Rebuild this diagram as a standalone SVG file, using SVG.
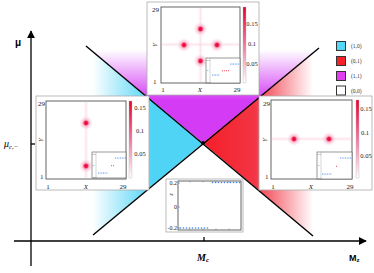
<svg xmlns="http://www.w3.org/2000/svg" width="374" height="273" viewBox="0 0 374 273">
<defs>
<linearGradient id="gPurple" gradientUnits="userSpaceOnUse" x1="0" y1="50" x2="0" y2="100">
<stop offset="0" stop-color="#ffffff"/><stop offset="1" stop-color="#d33cf4"/>
</linearGradient>
<linearGradient id="gCyan" gradientUnits="userSpaceOnUse" x1="92" y1="0" x2="152" y2="0">
<stop offset="0" stop-color="#ffffff"/><stop offset="1" stop-color="#4fd4f6"/>
</linearGradient>
<linearGradient id="gRed" gradientUnits="userSpaceOnUse" x1="203" y1="0" x2="313" y2="0">
<stop offset="0" stop-color="#f51e28"/><stop offset="0.47" stop-color="#f23545"/><stop offset="1" stop-color="#ffffff"/>
</linearGradient>
<linearGradient id="gBar" x1="0" y1="0" x2="0" y2="1">
<stop offset="0" stop-color="#e8002a"/><stop offset="0.45" stop-color="#f06a98"/><stop offset="1" stop-color="#ffffff"/>
</linearGradient>
<radialGradient id="gSpot">
<stop offset="0" stop-color="#e8002a"/><stop offset="0.25" stop-color="#ee2050"/><stop offset="0.45" stop-color="#f7a0c0" stop-opacity="0.7"/><stop offset="1" stop-color="#fbd0e0" stop-opacity="0"/>
</radialGradient>
<linearGradient id="gStreakV" x1="0" y1="0" x2="1" y2="0">
<stop offset="0" stop-color="#fbd6e4" stop-opacity="0"/><stop offset="0.5" stop-color="#f9c2d6" stop-opacity="0.8"/><stop offset="1" stop-color="#fbd6e4" stop-opacity="0"/>
</linearGradient>
<linearGradient id="gStreakH" x1="0" y1="0" x2="0" y2="1">
<stop offset="0" stop-color="#fbd6e4" stop-opacity="0"/><stop offset="0.5" stop-color="#f9c2d6" stop-opacity="0.8"/><stop offset="1" stop-color="#fbd6e4" stop-opacity="0"/>
</linearGradient>
<marker id="arrow" viewBox="0 0 10 10" refX="9" refY="5" markerWidth="8" markerHeight="8" markerUnits="userSpaceOnUse" orient="auto">
<path d="M0,0 L10,5 L0,10 Z" fill="#000"/>
</marker>
<style>
.frame{fill:#fff;stroke:#aaaaaa;stroke-width:0.8}
.plot{fill:#fff;stroke:#555;stroke-width:0.9}
.bar{fill:url(#gBar);stroke:#bbb;stroke-width:0.4}
.lbl{font-family:"Liberation Serif",serif;font-size:7px;fill:#222}
.cb{font-family:"Liberation Serif",serif;font-size:6.5px;fill:#222;text-anchor:middle}
.it{font-style:italic}
.inset{fill:#fff;stroke:#555;stroke-width:0.6}
.tiny{font-family:"Liberation Serif",serif;font-size:2.6px;fill:#555}
.bd{fill:#3b82e6}
.rd{fill:#e8202a}
.leg{font-family:"Liberation Serif",serif;font-size:5.5px;fill:#333}
.sq{stroke:#333;stroke-width:1}
.ax{stroke:#000;stroke-width:1.3;fill:none}
.bnd{stroke:#000;stroke-width:1.4;fill:none}
.ticklbl{font-family:"Liberation Serif",serif;font-size:6px;fill:#222;text-anchor:end}
</style>
</defs>

<g id="regions">
<polygon points="86,46 319,48 203,143" fill="url(#gPurple)"/>
<polygon points="86,46 203,143 93,235" fill="url(#gCyan)"/>
<polygon points="319,48 203,143 313,236" fill="url(#gRed)"/>
</g>

<g id="connectors">
<line class="bnd" x1="86" y1="46" x2="313" y2="236"/>
<line class="bnd" x1="319" y1="48" x2="93" y2="235"/>
<line class="ax" x1="31" y1="266" x2="31" y2="31" marker-end="url(#arrow)"/>
<line class="ax" x1="14" y1="241" x2="366" y2="241" marker-end="url(#arrow)"/>
<line class="ax" x1="31" y1="144" x2="35" y2="144" stroke-width="0.9"/>
<line class="ax" x1="204" y1="237" x2="204" y2="241" stroke-width="0.9"/>
</g>

<g id="axis-labels">
<text x="15" y="46" font-family="Liberation Sans,sans-serif" font-size="10" font-weight="bold">μ</text>
<text x="349" y="261" font-family="Liberation Sans,sans-serif" font-size="9" font-weight="bold">M<tspan font-size="6" dy="1">z</tspan></text>
<text x="197" y="261" font-family="Liberation Serif,serif" font-size="10" font-style="italic" font-weight="bold">M<tspan font-size="7" dy="1">c</tspan></text>
<text x="4" y="147" font-family="Liberation Serif,serif" font-size="10" font-style="italic">μ<tspan font-size="6.5" dy="1.5">c,−</tspan></text>
</g>

<g id="center-point"><circle cx="203" cy="143" r="2" fill="#000"/></g>

<g id="panel-top">
<rect class="frame" x="147" y="2" width="112" height="93"/>
<rect class="plot" x="161" y="7" width="79" height="76"/>
<rect x="198" y="8" width="5" height="74" fill="url(#gStreakV)" opacity="0.5"/>
<rect x="162" y="42" width="77" height="5" fill="url(#gStreakH)" opacity="0.5"/>
<circle cx="200.5" cy="29" r="7" fill="url(#gSpot)"/>
<circle cx="184" cy="45" r="7" fill="url(#gSpot)"/>
<circle cx="217" cy="45" r="7" fill="url(#gSpot)"/>
<circle cx="200.5" cy="61" r="7" fill="url(#gSpot)"/>
<rect class="bar" x="243" y="7" width="3" height="76"/>
<text class="cb" x="252" y="26">0.15</text>
<text class="cb" x="252" y="46">0.1</text>
<text class="cb" x="252" y="66">0.05</text>
<text class="lbl" x="152" y="12">29</text>
<text class="lbl" x="153" y="84">1</text>
<text class="lbl it" transform="translate(157,45) rotate(-90)" text-anchor="middle">Y</text>
<text class="lbl" x="163" y="92" text-anchor="middle">1</text>
<text class="lbl it" x="200" y="92" text-anchor="middle">X</text>
<text class="lbl" x="237" y="92" text-anchor="middle">29</text>
<g id="inset-top">
<rect class="inset" x="206" y="58" width="34" height="25"/>
<line x1="210" y1="58" x2="210" y2="83" stroke="#999" stroke-width="0.4"/>
<text class="tiny" x="206.5" y="61">0.2</text><text class="tiny" x="207" y="71">0</text><text class="tiny" x="206.5" y="82.5">-0.2</text>
<g class="bd"><rect x="230" y="63.6" width="0.9" height="0.9"/><rect x="231.6" y="63.6" width="0.9" height="0.9"/><rect x="233.2" y="63.6" width="0.9" height="0.9"/><rect x="234.8" y="63.6" width="0.9" height="0.9"/><rect x="236.4" y="63.6" width="0.9" height="0.9"/><rect x="238" y="63.6" width="0.9" height="0.9"/>
<rect x="212" y="74.6" width="0.9" height="0.9"/><rect x="213.6" y="74.6" width="0.9" height="0.9"/><rect x="215.2" y="74.6" width="0.9" height="0.9"/><rect x="216.8" y="74.6" width="0.9" height="0.9"/><rect x="218.4" y="74.6" width="0.9" height="0.9"/></g>
<g class="rd"><rect x="222" y="70.3" width="0.9" height="0.9"/><rect x="224" y="70.3" width="0.9" height="0.9"/><rect x="226" y="70.3" width="0.9" height="0.9"/><rect x="228" y="70.3" width="0.9" height="0.9"/></g>
</g>
</g>

<g id="panel-left">
<rect class="frame" x="36" y="96" width="113" height="94"/>
<rect class="plot" x="46" y="101" width="80" height="78"/>
<rect x="83.5" y="102" width="5" height="76" fill="url(#gStreakV)" opacity="0.55"/>
<circle cx="86" cy="123" r="7" fill="url(#gSpot)"/>
<circle cx="86" cy="166" r="7" fill="url(#gSpot)"/>
<rect class="bar" x="129" y="101" width="3" height="77"/>
<text class="cb" x="140" y="110">0.15</text>
<text class="cb" x="140" y="133">0.1</text>
<text class="cb" x="140" y="156">0.05</text>
<text class="lbl" x="38" y="106">29</text>
<text class="lbl" x="40" y="179">1</text>
<text class="lbl it" transform="translate(43,140) rotate(-90)" text-anchor="middle">Y</text>
<text class="lbl" x="48" y="189" text-anchor="middle">1</text>
<text class="lbl it" x="86" y="189" text-anchor="middle">X</text>
<text class="lbl" x="123" y="189" text-anchor="middle">29</text>
<g id="inset-left">
<rect class="inset" x="92" y="152" width="34" height="26"/>
<line x1="96" y1="152" x2="96" y2="178" stroke="#999" stroke-width="0.4"/>
<text class="tiny" x="92.5" y="155">0.2</text><text class="tiny" x="93" y="166">0</text><text class="tiny" x="92.5" y="177.5">-0.2</text>
<g class="bd"><rect x="115" y="157.6" width="0.9" height="0.9"/><rect x="116.7" y="157.6" width="0.9" height="0.9"/><rect x="118.4" y="157.6" width="0.9" height="0.9"/><rect x="120.1" y="157.6" width="0.9" height="0.9"/><rect x="121.8" y="157.6" width="0.9" height="0.9"/><rect x="123.5" y="157.6" width="0.9" height="0.9"/><rect x="125" y="157.6" width="0.9" height="0.9"/>
<rect x="98" y="172.6" width="0.9" height="0.9"/><rect x="99.7" y="172.6" width="0.9" height="0.9"/><rect x="101.4" y="172.6" width="0.9" height="0.9"/><rect x="103.1" y="172.6" width="0.9" height="0.9"/><rect x="104.8" y="172.6" width="0.9" height="0.9"/><rect x="106.5" y="172.6" width="0.9" height="0.9"/></g>
<g class="rd"><rect x="111" y="165.3" width="0.9" height="0.9"/><rect x="113" y="165.3" width="0.9" height="0.9"/></g>
</g>
</g>

<g id="panel-right">
<rect class="frame" x="259" y="96" width="113" height="94"/>
<rect class="plot" x="271" y="100" width="81" height="79"/>
<rect x="272" y="136.5" width="79" height="5" fill="url(#gStreakH)" opacity="0.55"/>
<circle cx="294" cy="139" r="7" fill="url(#gSpot)"/>
<circle cx="329" cy="139" r="7" fill="url(#gSpot)"/>
<rect class="bar" x="356" y="100" width="3" height="78"/>
<text class="cb" x="366" y="111">0.15</text>
<text class="cb" x="365" y="135">0.1</text>
<text class="cb" x="366" y="158">0.05</text>
<text class="lbl" x="263" y="106">29</text>
<text class="lbl" x="265" y="179">1</text>
<text class="lbl it" transform="translate(267,140) rotate(-90)" text-anchor="middle">Y</text>
<text class="lbl" x="273" y="189" text-anchor="middle">1</text>
<text class="lbl it" x="311" y="189" text-anchor="middle">X</text>
<text class="lbl" x="350" y="189" text-anchor="middle">29</text>
<g id="inset-right">
<rect class="inset" x="317" y="152" width="35" height="27"/>
<line x1="321" y1="152" x2="321" y2="179" stroke="#999" stroke-width="0.4"/>
<text class="tiny" x="317.5" y="155">0.2</text><text class="tiny" x="318" y="166">0</text><text class="tiny" x="317.5" y="178.5">-0.2</text>
<g class="bd"><rect x="340" y="157.6" width="0.9" height="0.9"/><rect x="341.7" y="157.6" width="0.9" height="0.9"/><rect x="343.4" y="157.6" width="0.9" height="0.9"/><rect x="345.1" y="157.6" width="0.9" height="0.9"/><rect x="346.8" y="157.6" width="0.9" height="0.9"/><rect x="348.5" y="157.6" width="0.9" height="0.9"/><rect x="350.2" y="157.6" width="0.9" height="0.9"/>
<rect x="322" y="173.6" width="0.9" height="0.9"/><rect x="323.7" y="173.6" width="0.9" height="0.9"/><rect x="325.4" y="173.6" width="0.9" height="0.9"/><rect x="327.1" y="173.6" width="0.9" height="0.9"/><rect x="328.8" y="173.6" width="0.9" height="0.9"/><rect x="330.5" y="173.6" width="0.9" height="0.9"/></g>
<g class="rd"><rect x="336" y="165.8" width="0.9" height="0.9"/></g>
</g>
</g>

<g id="panel-bottom">
<rect class="frame" x="166" y="179" width="77" height="53"/>
<rect class="plot" x="178" y="181" width="63" height="49" stroke="#999"/>
<g stroke="#666" stroke-width="0.5">
<line x1="178" y1="183" x2="180" y2="183"/><line x1="178" y1="207" x2="180" y2="207"/><line x1="178" y1="228" x2="180" y2="228"/>
<line x1="190" y1="181" x2="190" y2="182.5"/><line x1="203" y1="181" x2="203" y2="182.5"/><line x1="216" y1="181" x2="216" y2="182.5"/><line x1="229" y1="181" x2="229" y2="182.5"/>
<line x1="190" y1="230" x2="190" y2="228.5"/><line x1="203" y1="230" x2="203" y2="228.5"/><line x1="216" y1="230" x2="216" y2="228.5"/><line x1="229" y1="230" x2="229" y2="228.5"/>
</g>
<text class="ticklbl" x="177" y="185">0.2</text>
<text class="ticklbl" x="177" y="209">0</text>
<text class="ticklbl" x="177" y="230">-0.2</text>
<text class="ticklbl it" transform="translate(173,193) rotate(-90)" text-anchor="middle">ε</text>
<g class="bd">
<circle cx="212.5" cy="182.5" r="0.8"/><circle cx="215.5" cy="182.5" r="0.8"/><circle cx="218.5" cy="182.5" r="0.8"/><circle cx="221.5" cy="182.5" r="0.8"/><circle cx="224.5" cy="182.5" r="0.8"/><circle cx="227.5" cy="182.5" r="0.8"/><circle cx="230.5" cy="182.5" r="0.8"/><circle cx="233.5" cy="182.5" r="0.8"/><circle cx="236.5" cy="182.5" r="0.8"/><circle cx="239.5" cy="182.5" r="0.8"/>
<circle cx="180.5" cy="228" r="0.8"/><circle cx="183.5" cy="228" r="0.8"/><circle cx="186.5" cy="228" r="0.8"/><circle cx="189.5" cy="228" r="0.8"/><circle cx="192.5" cy="228" r="0.8"/><circle cx="195.5" cy="228" r="0.8"/><circle cx="198.5" cy="228" r="0.8"/><circle cx="201.5" cy="228" r="0.8"/><circle cx="204.5" cy="228" r="0.8"/><circle cx="207.5" cy="228" r="0.8"/>
</g>
</g>

<g id="legend">
<rect class="sq" x="336.5" y="41.5" width="9" height="9" fill="#55d8f8"/>
<rect class="sq" x="336.5" y="56.5" width="9" height="9" fill="#f52228"/>
<rect class="sq" x="336.5" y="71.5" width="9" height="9" fill="#e040f0"/>
<rect class="sq" x="336.5" y="86" width="9" height="9" fill="#ffffff"/>
<text class="leg" x="351" y="48">(1,0)</text>
<text class="leg" x="351" y="63">(0,1)</text>
<text class="leg" x="351" y="78">(1,1)</text>
<text class="leg" x="351" y="92.5">(0,0)</text>
</g>
</svg>
